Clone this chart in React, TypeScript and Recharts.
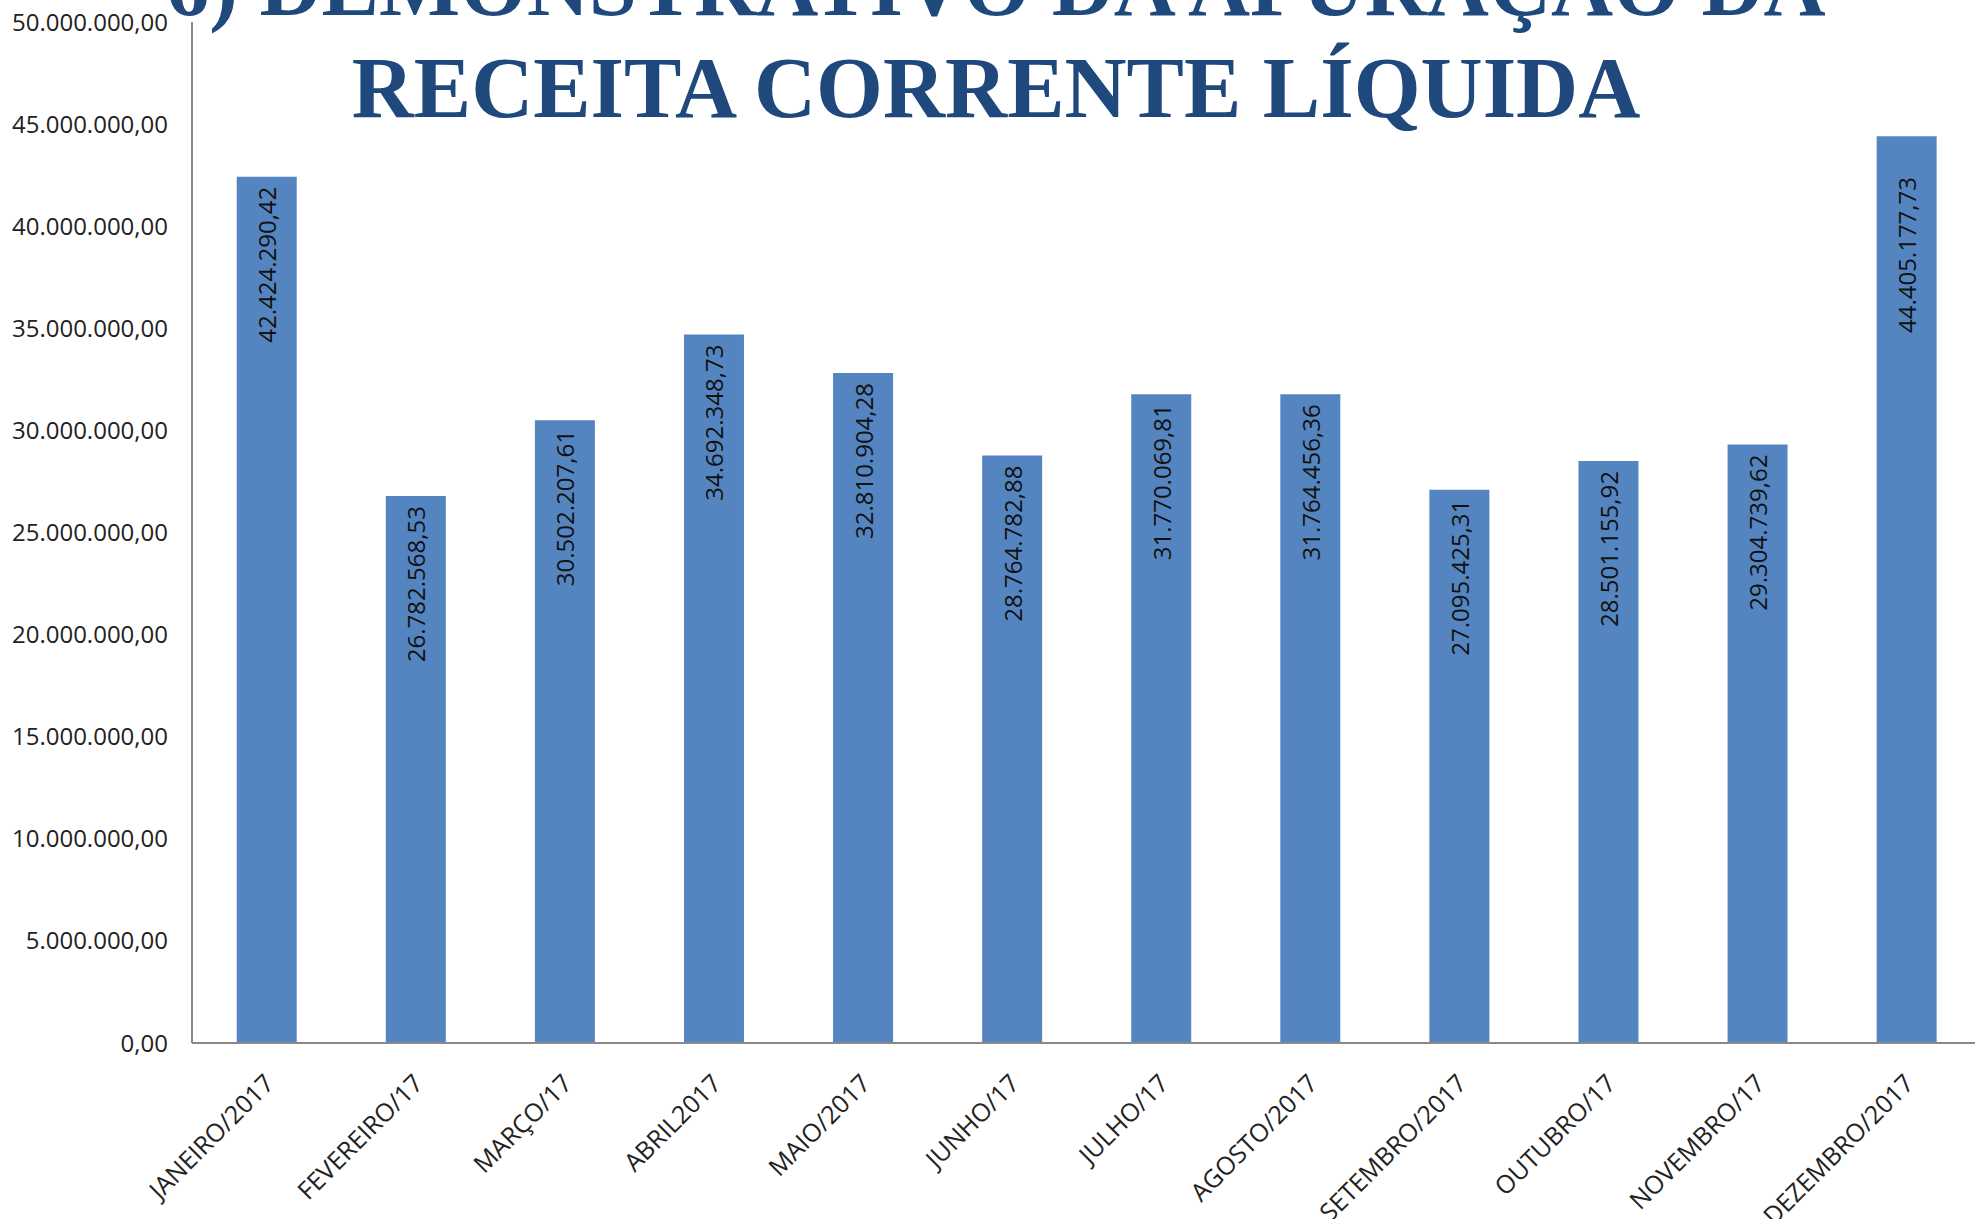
import React from "react";
import { BarChart, Bar, XAxis, YAxis, LabelList } from "recharts";

// monthly values (R$)
const months = [
  "JANEIRO/2017",
  "FEVEREIRO/17",
  "MARÇO/17",
  "ABRIL2017",
  "MAIO/2017",
  "JUNHO/17",
  "JULHO/17",
  "AGOSTO/2017",
  "SETEMBRO/2017",
  "OUTUBRO/17",
  "NOVEMBRO/17",
  "DEZEMBRO/2017",
];

const receita = [
  42424290.42, 26782568.53, 30502207.61, 34692348.73, 32810904.28, 28764782.88,
  31770069.81, 31764456.36, 27095425.31, 28501155.92, 29304739.62, 44405177.73,
];

const yTicks = [0, 5000000, 10000000, 15000000, 20000000, 25000000, 30000000, 35000000, 40000000, 45000000, 50000000];

const titleLines = ["6) DEMONSTRATIVO DA APURAÇÃO DA", "RECEITA CORRENTE LÍQUIDA"];

const data = months.map((m, i) => ({ mes: m, valor: receita[i] }));

const FONT = "'Open Sans', sans-serif";

// 1234567.8 -> "1.234.567,80"
const fmt = (v: number) => {
  const [int, dec] = Number(v).toFixed(2).split(".");
  return int.replace(/\B(?=(\d{3})+(?!\d))/g, ".") + "," + dec;
};

const BarValueLabel = (props: any) => {
  const vb = props.viewBox || {};
  const x = props.x ?? vb.x;
  const y = props.y ?? vb.y;
  const width = props.width ?? vb.width;
  const cx = x + width / 2;
  // labels never start higher than this line (like the excel original)
  const ty = Math.max(y + 10, 177);
  return (
    <text
      x={cx}
      y={ty}
      transform={`rotate(-90, ${cx}, ${ty})`}
      textAnchor="end"
      dominantBaseline="central"
      fontSize={24}
      fill="#111"
      fontFamily={FONT}
    >
      {fmt(props.value)}
    </text>
  );
};

const MonthTick = (props: any) => {
  const { x, y, payload } = props;
  return (
    <g transform={`translate(${x + 9},${y + 42})`}>
      <text transform="rotate(-45)" textAnchor="end" fontSize={25} fill="#222" fontFamily={FONT}>
        {payload.value}
      </text>
    </g>
  );
};

export default function App() {
  return (
    <div style={{ position: "absolute", left: 0, top: 0, width: 1975, height: 1219, background: "#fff", overflow: "hidden" }}>
      <BarChart
        width={1975}
        height={1219}
        data={data}
        margin={{ top: 22, right: -6, left: 0, bottom: 0 }}
        barCategoryGap="30%"
      >
        <XAxis
          dataKey="mes"
          height={176}
          interval={0}
          tickLine={false}
          tickSize={0}
          tickMargin={0}
          stroke="#898989"
          strokeWidth={2}
          tick={<MonthTick />}
        />
        <YAxis
          width={192}
          domain={[0, 50000000]}
          ticks={yTicks}
          interval={0}
          tickLine={false}
          tickSize={0}
          tickMargin={24}
          stroke="#898989"
          strokeWidth={2}
          tickFormatter={fmt}
          tick={{ fill: "#222", fontSize: 24, fontFamily: FONT }}
        />
        <Bar dataKey="valor" fill="#5585C0" isAnimationActive={false}>
          <LabelList dataKey="valor" content={<BarValueLabel />} />
        </Bar>
      </BarChart>
      <svg
        width={1975}
        height={1219}
        style={{ position: "absolute", left: 0, top: 0, pointerEvents: "none" }}
      >
        {titleLines.map((t, i) => (
          <text
            key={t}
            x={996}
            y={15 + i * 102}
            textAnchor="middle"
            fontFamily="'Liberation Serif', 'Times New Roman', serif"
            fontWeight="bold"
            fontSize={86}
            fill="#1F497D"
          >
            {t}
          </text>
        ))}
      </svg>
    </div>
  );
}
